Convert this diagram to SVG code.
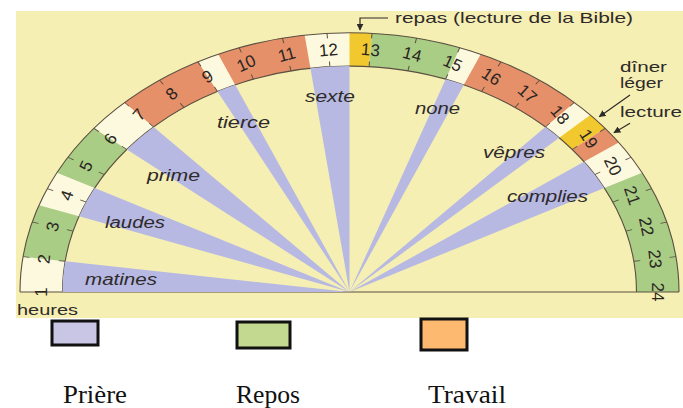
<svg xmlns="http://www.w3.org/2000/svg" xmlns:xlink="http://www.w3.org/1999/xlink" width="683" height="408" viewBox="0 0 683 408">
<style>
.ring{stroke:none}
.cream{fill:#fcf9de}
.green{fill:#a9cd85}
.orange{fill:#e6906a}
.yellow{fill:#f1c92e}
.wedge{fill:#b7b9e2}
.outline{fill:none;stroke:#5b4f40;stroke-width:1.1}
.tick{fill:none;stroke:#5b4f40;stroke-width:1;vector-effect:non-scaling-stroke}
.num{font-family:"Liberation Sans",Arial,sans-serif;font-size:17px;fill:#2b2622;text-anchor:middle;dominant-baseline:central}
.lab{font-family:"Liberation Sans",Arial,sans-serif;font-size:16px;font-style:italic;fill:#2e2a2a}
.note{font-family:"Liberation Sans",Arial,sans-serif;font-size:15px;fill:#2e2a2a}
.leg{font-family:"Liberation Serif","Times New Roman",serif;font-size:25px;fill:#111}
.box{stroke:#111;stroke-width:3}
.arrow{fill:none;stroke:#2e2a2a;stroke-width:1.2}
</style>
<defs>
<marker id="ah" viewBox="0 0 10 10" refX="9" refY="5" markerWidth="7" markerHeight="7" orient="auto" markerUnits="userSpaceOnUse">
<path d="M0 0L10 5L0 10Z" fill="#2e2a2a"/>
</marker>
<path id="tk" d="M-329.5 0h6.5M-287 0h-6.5"/>
</defs>

<rect id="panel" x="16" y="11" width="667" height="307" fill="#f6efb4"/>

<g id="ring">
<path class="cream" d="M20 292A329.5 259.3 0 0 1 679 292L636.5 292A287 225.9 0 0 0 62.5 292Z"/>
<path class="green" d="M23.07 256.69A329.5 259.3 0 0 1 39.02 205.17L79.07 216.35A287 225.9 0 0 0 65.17 261.24Z"/>
<path class="green" d="M56.94 172.71A329.5 259.3 0 0 1 93.9 128.36L126.87 149.44A287 225.9 0 0 0 94.68 188.07Z"/>
<path class="orange" d="M124.6 102.49A329.5 259.3 0 0 1 197.91 61.77L217.46 91.43A287 225.9 0 0 0 153.61 126.9Z"/>
<path class="orange" d="M218.23 54.17A329.5 259.3 0 0 1 304.63 35.12L310.42 68.2A287 225.9 0 0 0 235.16 84.8Z"/>
<path class="yellow" d="M349.5 32.7A329.5 259.3 0 0 1 371.99 33.3L369.09 66.63A287 225.9 0 0 0 349.5 66.1Z"/>
<path class="green" d="M371.99 33.3A329.5 259.3 0 0 1 459.84 47.67L445.61 79.14A287 225.9 0 0 0 369.09 66.63Z"/>
<path class="orange" d="M480.77 54.17A329.5 259.3 0 0 1 574.4 102.49L545.39 126.9A287 225.9 0 0 0 463.84 84.8Z"/>
<path class="yellow" d="M590.31 115.01A329.5 259.3 0 0 1 605.1 128.36L572.13 149.44A287 225.9 0 0 0 559.25 137.81Z"/>
<path class="orange" d="M605.1 128.36A329.5 259.3 0 0 1 618.69 142.47L583.97 161.73A287 225.9 0 0 0 572.13 149.44Z"/>
<path class="green" d="M642.06 172.71A329.5 259.3 0 0 1 679 292L636.5 292A287 225.9 0 0 0 604.32 188.07Z"/>
<path class="outline" d="M20 292A329.5 259.3 0 0 1 679 292M62.5 292A287 225.9 0 0 1 636.5 292M20 292H679"/>
<g class="tick" transform="translate(349.5 292) scale(1 0.787)">
<use xlink:href="#tk" transform="rotate(7.826)"/>
<use xlink:href="#tk" transform="rotate(15.652)"/>
<use xlink:href="#tk" transform="rotate(23.478)"/>
<use xlink:href="#tk" transform="rotate(31.304)"/>
<use xlink:href="#tk" transform="rotate(39.130)"/>
<use xlink:href="#tk" transform="rotate(46.957)"/>
<use xlink:href="#tk" transform="rotate(54.783)"/>
<use xlink:href="#tk" transform="rotate(62.609)"/>
<use xlink:href="#tk" transform="rotate(70.435)"/>
<use xlink:href="#tk" transform="rotate(78.261)"/>
<use xlink:href="#tk" transform="rotate(86.087)"/>
<use xlink:href="#tk" transform="rotate(93.913)"/>
<use xlink:href="#tk" transform="rotate(101.739)"/>
<use xlink:href="#tk" transform="rotate(109.565)"/>
<use xlink:href="#tk" transform="rotate(117.391)"/>
<use xlink:href="#tk" transform="rotate(125.217)"/>
<use xlink:href="#tk" transform="rotate(133.043)"/>
<use xlink:href="#tk" transform="rotate(140.870)"/>
<use xlink:href="#tk" transform="rotate(148.696)"/>
<use xlink:href="#tk" transform="rotate(156.522)"/>
<use xlink:href="#tk" transform="rotate(164.348)"/>
<use xlink:href="#tk" transform="rotate(172.174)"/>
</g>
</g>

<g id="hours">
<text class="num" x="41.5" y="292" transform="rotate(-90 41.5 292)">1</text>
<text class="num" x="44.37" y="258.99" transform="rotate(-83.83 44.37 258.99)">2</text>
<text class="num" x="52.92" y="226.6" transform="rotate(-77.57 52.92 226.6)">3</text>
<text class="num" x="67" y="195.43" transform="rotate(-71.13 67 195.43)">4</text>
<text class="num" x="86.34" y="166.05" transform="rotate(-64.43 86.34 166.05)">5</text>
<text class="num" x="110.58" y="139.02" transform="rotate(-57.37 110.58 139.02)">6</text>
<text class="num" x="139.27" y="114.85" transform="rotate(-49.88 139.27 114.85)">7</text>
<text class="num" x="171.88" y="93.97" transform="rotate(-41.89 171.88 93.97)">8</text>
<text class="num" x="207.8" y="76.78" transform="rotate(-33.36 207.8 76.78)">9</text>
<text class="num" x="246.36" y="63.6" transform="rotate(-24.3 246.36 63.6)">10</text>
<text class="num" x="286.84" y="54.67" transform="rotate(-14.79 286.84 54.67)">11</text>
<text class="num" x="328.48" y="50.17" transform="rotate(-4.97 328.48 50.17)">12</text>
<text class="num" x="370.52" y="50.17" transform="rotate(4.97 370.52 50.17)">13</text>
<text class="num" x="412.16" y="54.67" transform="rotate(14.79 412.16 54.67)">14</text>
<text class="num" x="452.64" y="63.6" transform="rotate(24.3 452.64 63.6)">15</text>
<text class="num" x="491.2" y="76.78" transform="rotate(33.36 491.2 76.78)">16</text>
<text class="num" x="527.12" y="93.97" transform="rotate(41.89 527.12 93.97)">17</text>
<text class="num" x="559.73" y="114.85" transform="rotate(49.88 559.73 114.85)">18</text>
<text class="num" x="588.42" y="139.02" transform="rotate(57.37 588.42 139.02)">19</text>
<text class="num" x="612.66" y="166.05" transform="rotate(64.43 612.66 166.05)">20</text>
<text class="num" x="632" y="195.43" transform="rotate(71.13 632 195.43)">21</text>
<text class="num" x="646.08" y="226.6" transform="rotate(77.57 646.08 226.6)">22</text>
<text class="num" x="654.63" y="258.99" transform="rotate(83.83 654.63 258.99)">23</text>
<text class="num" x="657.5" y="292" transform="rotate(90 657.5 292)">24</text>
</g>

<g id="matines"><path class="wedge" d="M349.5 292L62.5 292A287 225.9 0 0 1 65.17 261.24Z"/><text class="lab" x="85" y="285" textLength="72" lengthAdjust="spacingAndGlyphs">matines</text></g>
<g id="laudes"><path class="wedge" d="M349.5 292L79.07 216.35A287 225.9 0 0 1 94.68 188.07Z"/><text class="lab" x="105" y="228" textLength="60" lengthAdjust="spacingAndGlyphs">laudes</text></g>
<g id="prime"><path class="wedge" d="M349.5 292L126.87 149.44A287 225.9 0 0 1 153.61 126.9Z"/><text class="lab" x="147" y="181" textLength="53" lengthAdjust="spacingAndGlyphs">prime</text></g>
<g id="tierce"><path class="wedge" d="M349.5 292L217.46 91.43A287 225.9 0 0 1 235.16 84.8Z"/><text class="lab" x="217" y="128" textLength="53" lengthAdjust="spacingAndGlyphs">tierce</text></g>
<g id="sexte"><path class="wedge" d="M349.5 292L310.42 68.2A287 225.9 0 0 1 349.5 66.1Z"/><text class="lab" x="305" y="102" textLength="50" lengthAdjust="spacingAndGlyphs">sexte</text></g>
<g id="none"><path class="wedge" d="M349.5 292L445.61 79.14A287 225.9 0 0 1 463.84 84.8Z"/><text class="lab" x="415" y="114" textLength="45" lengthAdjust="spacingAndGlyphs">none</text></g>
<g id="vepres"><path class="wedge" d="M349.5 292L545.39 126.9A287 225.9 0 0 1 559.25 137.81Z"/><text class="lab" x="483" y="158" textLength="62" lengthAdjust="spacingAndGlyphs">vêpres</text></g>
<g id="complies"><path class="wedge" d="M349.5 292L583.97 161.73A287 225.9 0 0 1 604.32 188.07Z"/><text class="lab" x="507" y="201.5" textLength="81" lengthAdjust="spacingAndGlyphs">complies</text></g>

<g id="notes">
<text class="note" x="395" y="23" textLength="238" lengthAdjust="spacingAndGlyphs">repas (lecture de la Bible)</text>
<text class="note" x="620" y="72" textLength="47" lengthAdjust="spacingAndGlyphs">dîner</text>
<text class="note" x="620" y="87.5" textLength="43" lengthAdjust="spacingAndGlyphs">léger</text>
<text class="note" x="620" y="117" textLength="62" lengthAdjust="spacingAndGlyphs">lecture</text>
<text class="note" x="17" y="315" textLength="61" lengthAdjust="spacingAndGlyphs">heures</text>
</g>

<g id="connectors">
<path class="arrow" d="M388 18H360V30" marker-end="url(#ah)"/>
<path class="arrow" d="M630 95L599.3 116.7" marker-end="url(#ah)"/>
<path class="arrow" d="M630 123.3L614 132.7" marker-end="url(#ah)"/>
</g>

<g id="legend">
<g id="leg-priere"><rect class="box" x="52" y="321" width="46" height="24" fill="#c8c5e5"/><text class="leg" x="63" y="403" textLength="64" lengthAdjust="spacingAndGlyphs">Prière</text></g>
<g id="leg-repos"><rect class="box" x="237" y="322" width="53" height="26" fill="#c3d98f"/><text class="leg" x="236" y="403" textLength="64" lengthAdjust="spacingAndGlyphs">Repos</text></g>
<g id="leg-travail"><rect class="box" x="421" y="319" width="46" height="31" fill="#fdb970"/><text class="leg" x="428" y="403" textLength="78" lengthAdjust="spacingAndGlyphs">Travail</text></g>
</g>
</svg>
